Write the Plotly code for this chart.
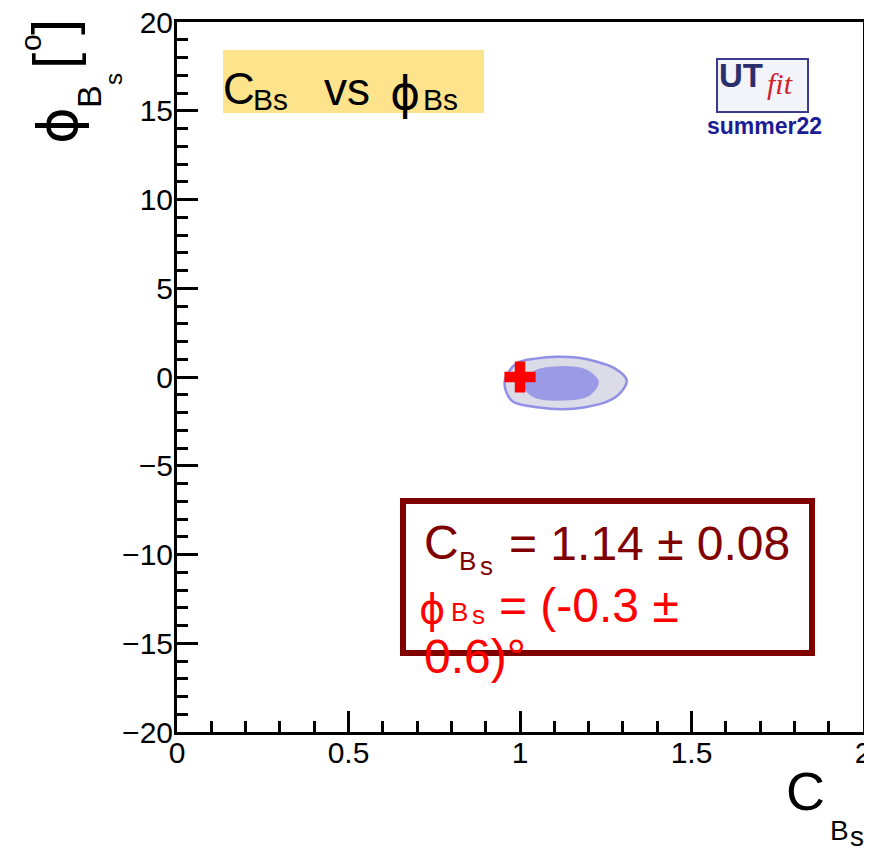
import plotly.graph_objects as go

# ---------------- data ----------------
x_range = [0, 2]
y_range = [-20, 20]

# outer (95%) contour of the C_Bs vs phi_Bs probability region
outer_c = [0.956, 0.990, 1.050, 1.107, 1.170, 1.224, 1.275, 1.311, 1.290, 1.250, 1.190, 1.126, 1.050, 0.980, 0.960, 0.956]
outer_phi = [-0.17, 0.77, 1.05, 1.14, 1.08, 0.86, 0.50, -0.17, -0.95, -1.42, -1.70, -1.82, -1.70, -1.39, -0.85, -0.17]
# inner (68%) contour
inner_c = [1.010, 1.039, 1.117, 1.194, 1.228, 1.204, 1.126, 1.039, 1.010]
inner_phi = [-0.45, 0.30, 0.58, 0.39, -0.26, -1.01, -1.30, -1.11, -0.45]
# Standard Model point
sm_c = [1.0]
sm_phi = [0.0]

C_MEAN, C_ERR = 1.14, 0.08
PHI_MEAN, PHI_ERR = -0.3, 0.6

x_tick_vals = [0, 0.5, 1, 1.5, 2]
x_tick_text = ["0", "0.5", "1", "1.5", "2"]
y_tick_vals = [-20, -15, -10, -5, 0, 5, 10, 15, 20]
y_tick_text = ["\u221220", "\u221215", "\u221210", "\u22125", "0", "5", "10", "15", "20"]

# ---------------- layout helpers ----------------
PAGE_W, PAGE_H = 872, 849
BODY = 8                      # default page margin around the plot div
W, H = PAGE_W - BODY, PAGE_H - BODY
L, R, T, B = 177, 863, 22, 732   # plot area in page pixels
FONT = "Liberation Sans, Arial, Helvetica, sans-serif"


def px(xp):
    return (xp - L) / (R - L)


def py(yp):
    return (B - yp) / (B - T)


annotations = []


def ann(text, x, y, size, color="black", xanchor="center", yanchor="middle",
        angle=0, family=FONT):
    annotations.append(dict(
        text=text, x=px(x), y=py(y), xref="paper", yref="paper",
        xanchor=xanchor, yanchor=yanchor, showarrow=False, textangle=angle,
        font=dict(size=size, color=color, family=family),
    ))


fig = go.Figure()

fig.add_trace(go.Scatter(
    x=outer_c, y=outer_phi, mode="lines", fill="toself",
    fillcolor="#dcdce8", line=dict(color="#9090e6", width=2.5, shape="spline"),
    hoverinfo="skip", showlegend=False))
fig.add_trace(go.Scatter(
    x=inner_c, y=inner_phi, mode="lines", fill="toself",
    fillcolor="#9a9ae6", line=dict(color="#9a9ae6", width=1, shape="spline"),
    hoverinfo="skip", showlegend=False))
fig.add_trace(go.Scatter(
    x=sm_c, y=sm_phi, mode="markers",
    marker=dict(symbol="cross", size=26, color="#ff0000", line=dict(width=0)),
    hoverinfo="skip", showlegend=False))

axis_common = dict(
    showgrid=False, zeroline=False, showline=True, linecolor="black",
    linewidth=3, mirror=True, ticks="inside", tickwidth=3, tickcolor="black",
    tickfont=dict(size=30, color="black", family=FONT), automargin=False,
    ticklabeloverflow="allow",
)

fig.update_xaxes(range=x_range, tickmode="array", tickvals=x_tick_vals,
                 ticktext=x_tick_text, ticklen=21, ticklabelstandoff=-8,
                 minor=dict(dtick=0.1, tick0=0, ticklen=11, ticks="inside",
                            tickwidth=3, tickcolor="black", showgrid=False),
                 **axis_common)
fig.update_yaxes(range=y_range, tickmode="array", tickvals=y_tick_vals,
                 ticktext=y_tick_text, ticklen=21, ticklabelstandoff=-5,
                 minor=dict(dtick=1, tick0=0, ticklen=11, ticks="inside",
                            tickwidth=3, tickcolor="black", showgrid=False),
                 **axis_common)

shapes = []
# title box (yellow)
shapes.append(dict(type="rect", xref="paper", yref="paper",
                   x0=px(223), x1=px(484), y0=py(113), y1=py(50),
                   fillcolor="#fde48c", line=dict(width=0), layer="below"))
# stats box
shapes.append(dict(type="rect", xref="paper", yref="paper",
                   x0=px(403), x1=px(812), y0=py(653), y1=py(501),
                   fillcolor="rgba(255,255,255,0)",
                   line=dict(color="#800000", width=6)))
# UTfit logo box
shapes.append(dict(type="rect", xref="paper", yref="paper",
                   x0=px(717), x1=px(808), y0=py(112), y1=py(59),
                   fillcolor="#f3f3fa", line=dict(color="#3a3a8e", width=2)))

# title "C_Bs vs phi_Bs"
ann("C", 221, 89, 44, xanchor="left")
ann("Bs", 251, 100, 30, xanchor="left")
ann("vs", 322, 89, 46, xanchor="left")
ann("\u03d5", 405, 93, 46, family="DejaVu Sans")
ann("Bs", 421, 100, 30, xanchor="left")

# UTfit logo
ann("<b>UT</b>", 741, 75, 33, color="#2b2f6b")
ann("<i>fit</i>", 780, 83, 30, color="#d0202c", family="Liberation Serif, Times New Roman, serif")
ann("<b>summer22</b>", 764, 126, 23, color="#1c1c96")

# stats text
dark = "#800000"
ann("C", 441, 542, 48, color=dark)
ann("B", 467, 561, 26, color=dark)
ann("s", 486, 566, 26, color=dark)
ann(f"= {C_MEAN:.2f} \u00b1 {C_ERR:.2f}", 507, 543, 48, color=dark, xanchor="left")
red = "#ff0000"
ann("\u03d5", 432, 609, 40, color=red, family="DejaVu Sans")
ann("B", 459, 612, 26, color=red)
ann("s", 478, 615, 26, color=red)
ann(f"= ({PHI_MEAN:.1f} \u00b1", 497, 605, 48, color=red, xanchor="left")
ann(f"{PHI_ERR:.1f})\u00b0", 422, 656, 48, color=red, xanchor="left")

# x-axis title C_Bs
ann("C", 805, 791, 54)
ann("B", 839, 830, 28)
ann("s", 857, 836, 28)

# y-axis title phi_Bs [o]
ann("\u03d5", 57, 126, 56, angle=-90, family="DejaVu Sans")
ann("B", 89, 97, 34, angle=-90)
ann("s", 113, 79, 24, angle=-90)
ann("[", 53, 61, 58, angle=-90)
ann("]", 53, 27, 58, angle=-90)
ann("o", 31, 43, 30, angle=-90)

fig.update_layout(
    width=W, height=H, autosize=False,
    margin=dict(l=L - BODY, r=W - (R - BODY), t=T - BODY, b=H - (B - BODY), pad=0),
    paper_bgcolor="white", plot_bgcolor="white",
    shapes=shapes, annotations=annotations, showlegend=False,
    font=dict(family=FONT),
)

fig.write_html("out.html")
